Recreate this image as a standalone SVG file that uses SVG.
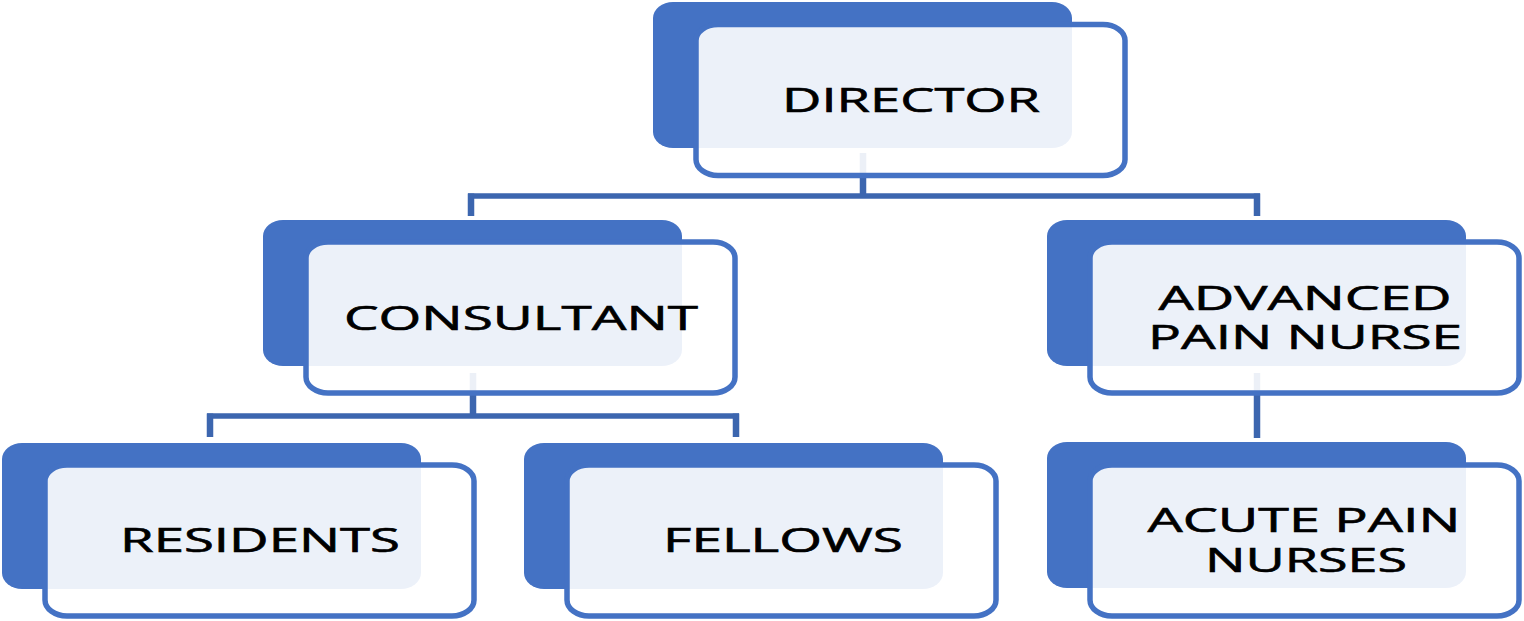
<svg xmlns="http://www.w3.org/2000/svg" width="1524" height="621" viewBox="0 0 1524 621">
<style>
.back{fill:#4472C4}
.front{fill:#fff;fill-opacity:0.9;stroke:#4472C4;stroke-width:5.5}
.lbl{font-family:"Open Sans","Liberation Sans",sans-serif;font-size:32px;fill:#000;stroke:#000;stroke-width:0.6;text-anchor:middle}
.con{fill:none;stroke:#3C66AF;stroke-width:5.5}
.conv{fill:none;stroke:#3C66AF;stroke-width:6.5}
</style>
<rect width="1524" height="621" fill="#fff"/>
<g id="connectors">
<path class="conv" d="M863 153 V196 M471 193.5 V216 M1257 193.5 V216"/>
<path class="con" d="M468 196 H1260"/>
<path class="conv" d="M473 373 V416 M210 413.5 V437 M736 413.5 V437"/>
<path class="con" d="M207 416 H739"/>
<path class="conv" d="M1257 373 V438"/>
</g>
<g id="director">
<rect class="back" x="653" y="2" width="419" height="146" rx="20" ry="16"/>
<rect class="front" x="696" y="24.5" width="429" height="151" rx="22" ry="16"/>
<text class="lbl" x="911" y="112" textLength="258" lengthAdjust="spacingAndGlyphs">DIRECTOR</text>
</g>
<g id="consultant">
<rect class="back" x="263" y="220" width="419" height="146" rx="20" ry="16"/>
<rect class="front" x="306" y="242" width="429" height="151" rx="22" ry="16"/>
<text class="lbl" x="521" y="330" textLength="354" lengthAdjust="spacingAndGlyphs">CONSULTANT</text>
</g>
<g id="advanced-pain-nurse">
<rect class="back" x="1047" y="220" width="419" height="146" rx="20" ry="16"/>
<rect class="front" x="1090" y="242" width="429" height="151" rx="22" ry="16"/>
<text class="lbl" x="1305" y="310" textLength="293" lengthAdjust="spacingAndGlyphs">ADVANCED</text>
<text class="lbl" x="1305" y="349" textLength="314" lengthAdjust="spacingAndGlyphs">PAIN NURSE</text>
</g>
<g id="residents">
<rect class="back" x="2" y="443" width="419" height="146" rx="20" ry="16"/>
<rect class="front" x="45" y="465" width="429" height="151" rx="22" ry="16"/>
<text class="lbl" x="260" y="552" textLength="280" lengthAdjust="spacingAndGlyphs">RESIDENTS</text>
</g>
<g id="fellows">
<rect class="back" x="524" y="443" width="419" height="146" rx="20" ry="16"/>
<rect class="front" x="567" y="465" width="429" height="151" rx="22" ry="16"/>
<text class="lbl" x="783" y="552" textLength="240" lengthAdjust="spacingAndGlyphs">FELLOWS</text>
</g>
<g id="acute-pain-nurses">
<rect class="back" x="1047" y="442" width="419" height="146" rx="20" ry="16"/>
<rect class="front" x="1090" y="465" width="429" height="151" rx="22" ry="16"/>
<text class="lbl" x="1304" y="532" textLength="313" lengthAdjust="spacingAndGlyphs">ACUTE PAIN</text>
<text class="lbl" x="1306" y="572" textLength="202" lengthAdjust="spacingAndGlyphs">NURSES</text>
</g>
</svg>
